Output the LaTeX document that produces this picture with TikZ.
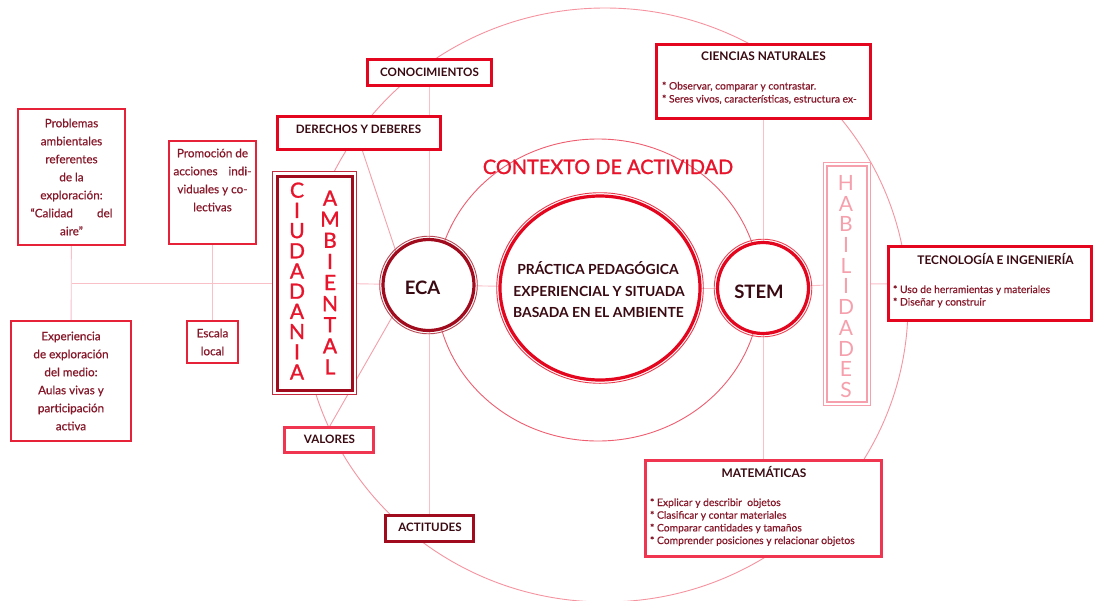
\documentclass[tikz,border=0pt]{standalone}
\usepackage{fontspec}
\setmainfont{Lato}
\newfontfamily\latomed[FakeBold=1.2]{Lato}
\newfontfamily\latoside[FakeBold=0.5]{Lato}
\usetikzlibrary{shapes.geometric,calc}
\pgfdeclarelayer{bottom}
\pgfdeclarelayer{background}
\pgfsetlayers{bottom,background,main}
\definecolor{bred}{HTML}{E3061E}
\definecolor{mred}{HTML}{EF3550}
\definecolor{dred}{HTML}{A00C1E}
\definecolor{sred}{HTML}{E52238}
\definecolor{cred}{HTML}{C42A3E}
\definecolor{lpink}{HTML}{F9C0C8}
\definecolor{dpink}{HTML}{F5A0AA}
\definecolor{opink}{HTML}{F594A0}
\definecolor{epink}{HTML}{EE5E70}
\definecolor{hpink}{HTML}{F5A0AC}
\definecolor{ttext}{HTML}{3A0A12}
\definecolor{btext}{HTML}{86182A}
\definecolor{ctext}{HTML}{E8142C}
\tikzset{
  every node/.style={inner sep=0pt,outer sep=0pt},
  boxb/.style={rectangle,draw=bred,line width=3pt,fill=white},
  boxm/.style={rectangle,draw=mred,line width=3pt,fill=white},
  boxd/.style={rectangle,draw=dred,line width=3pt,fill=white},
  boxs/.style={rectangle,draw=sred,line width=2pt,fill=white},
  ttl/.style={anchor=base,text=ttext,font=\bfseries\fontsize{11.6}{14}\selectfont},
  ttls/.style={anchor=base,text=ttext,font=\bfseries\fontsize{11.9}{13}\selectfont},
  ttlc/.style={anchor=base,text=ttext,font=\bfseries\fontsize{13.9}{15}\selectfont},
  sidetxt/.style={text=btext,align=center,font=\latoside\fontsize{11.7}{18}\selectfont},
  bodytxt/.style={anchor=base west,text=btext,font=\latoside\fontsize{10.3}{12}\selectfont},
  conn/.style={draw=lpink,line width=0.9pt},
  diag/.style={draw=dpink,line width=0.9pt},
  outerring/.style={draw=opink,line width=0.9pt},
  ctxring/.style={draw=epink,line width=0.9pt},
}
\begin{document}
\begin{tikzpicture}[x=1pt,y=-1pt]
\begin{pgfonlayer}{bottom}
\fill[white] (0,0) rectangle (1094,600);
\end{pgfonlayer}
\useasboundingbox (0,0) rectangle (1094,600);

% left boxes
\node[boxs,minimum width=107pt,minimum height=136pt,sidetxt] (prob) at (71.5,177)
  {Problemas\\ambientales\\referentes\\de la\\exploración:\\\hbox to 82pt{“Calidad\hfill del}\\aire”};
\node[boxs,minimum width=87pt,minimum height=103pt] (promo) at (212.5,192.5) {};
\node[sidetxt] (promotxt) at (212.5,180) {Promoción de\\\hbox to 78pt{acciones\hfill indi-}\\viduales y co-\\lectivas};
\node[boxs,minimum width=120pt,minimum height=120pt,sidetxt] (exp) at (71,381)
  {Experiencia\\de exploración\\del medio:\\Aulas vivas y\\participación\\activa};
\node[boxs,minimum width=51pt,minimum height=42pt,sidetxt] (esc) at (212.5,342) {Escala\\local};

% ciudadania
\node[rectangle,draw=cred,line width=1.2pt,fill=white,minimum width=84pt,minimum height=223pt] (ciud) at (314.5,283) {};
\draw[dred,line width=3pt] ($(ciud.north west)+(4.5,4.5)$) rectangle ($(ciud.south east)+(-4.5,-4.5)$);
\node[text=ctext,align=center,font=\latomed\fontsize{21}{20.2}\selectfont] (ciutxt) at (297,281) {C\\I\\U\\D\\A\\D\\A\\N\\I\\A};
\node[text=ctext,align=center,font=\latomed\fontsize{21}{21.1}\selectfont] (ambtxt) at (330,282.5) {A\\M\\B\\I\\E\\N\\T\\A\\L};

% small title boxes
\node[boxb,minimum width=124pt,minimum height=26pt] (conoc) at (429.5,72.5) {};
\node[ttl] (conoct) at (429.5,76) {CONOCIMIENTOS};
\node[boxb,minimum width=163pt,minimum height=33pt] (der) at (359,133) {};
\node[ttl] (dert) at (358.5,133.3) {DERECHOS Y DEBERES};
\node[boxm,minimum width=89pt,minimum height=25pt] (val) at (329,440) {};
\node[ttl] (valt) at (329.5,443.3) {VALORES};
\node[boxd,minimum width=88pt,minimum height=26pt] (act) at (429.5,528.5) {};
\node[ttl] (actt) at (430,531.7) {ACTITUDES};

% circles
\node[circle,draw=dred,line width=3.2pt,fill=white,minimum size=91pt] (eca) at (428.5,285) {};
\draw[dred!75,line width=0.9pt] (eca.center) circle[radius=48.8];
\node[anchor=base,text=ttext,font=\bfseries\fontsize{18.5}{20}\selectfont] (ecat) at (422.5,294) {ECA};

\node[ellipse,draw=bred,line width=3.2pt,fill=white,minimum width=200pt,minimum height=184pt] (ctr) at (600,288) {};
\draw[bred!80,line width=0.9pt] (ctr.center) ellipse[x radius=103.3,y radius=95.3];
\node[ttlc] (ctr1) at (598,274) {PRÁCTICA PEDAGÓGICA};
\node[ttlc] (ctr2) at (599,296) {EXPERIENCIAL Y SITUADA};
\node[ttlc] (ctr3) at (598.5,317.5) {BASADA EN EL AMBIENTE};

\node[circle,draw=bred,line width=3.2pt,fill=white,minimum size=91pt] (stem) at (763,288) {};
\draw[bred!75,line width=0.9pt] (stem.center) circle[radius=48.8];
\node[anchor=base,text=ttext,font=\bfseries\fontsize{18.5}{20}\selectfont] (stemt) at (759,298) {STEM};

\node[anchor=base,text=ctext,font=\latomed\fontsize{19.9}{21}\selectfont] (ctx) at (608,174) {CONTEXTO DE ACTIVIDAD};

% right boxes
\node[boxb,minimum width=214pt,minimum height=74pt] (cien) at (763.5,81.5) {};
\node[ttls] (cient) at (763.5,60) {CIENCIAS NATURALES};
\node[bodytxt] (cien1) at (662,89.5) {* Observar, comparar y contrastar.};
\node[bodytxt] (cien2) at (662,102.5) {* Seres vivos, características, estructura ex-};

\node[rectangle,draw=hpink,line width=1pt,fill=white,minimum width=47pt,minimum height=243pt] (hab) at (847,284) {};
\draw[hpink,line width=1.8pt] ($(hab.north west)+(3.5,3.5)$) rectangle ($(hab.south east)+(-3.5,-3.5)$);
\node[text=hpink,align=center,font=\fontsize{21}{20.7}\selectfont] (habt) at (846,286.5) {H\\A\\B\\I\\L\\I\\D\\A\\D\\E\\S};

\node[boxb,minimum width=203pt,minimum height=74pt] (tec) at (990,283.5) {};
\node[ttls] (tect) at (995.5,264) {TECNOLOGÍA E INGENIERÍA};
\node[bodytxt] (tec1) at (893,293) {* Uso de herramientas y materiales};
\node[bodytxt] (tec2) at (893,305.5) {* Diseñar y construir};

\node[boxm,minimum width=236pt,minimum height=96pt] (mat) at (763.5,508.5) {};
\node[ttls] (matt) at (764,477) {MATEMÁTICAS};
\node[bodytxt] (mat1) at (650,506) {* Explicar y describir\ \ objetos};
\node[bodytxt] (mat2) at (650,518.7) {* Clasificar y contar materiales};
\node[bodytxt] (mat3) at (650,531.4) {* Comparar cantidades y tamaños};
\node[bodytxt] (mat4) at (650,544) {* Comprender posiciones y relacionar objetos};

% connectors
\begin{pgfonlayer}{background}
\draw[outerring] (605,305) ellipse[x radius=303,y radius=297];
\draw[ctxring] (598,290) ellipse[x radius=162,y radius=151];
\coordinate (j1) at (71.5,283);
\draw[conn] (prob) -- (exp);
\draw[conn] (promo) -- (esc);
\draw[conn] (j1) -- (ciud);
\draw[conn] (ciud) -- (eca);
\draw[conn] (eca) -- (ctr);
\draw[conn] (ctr) -- (stem);
\draw[conn] (stem) -- (hab);
\draw[conn] (hab) -- (tec);
\draw[conn] (conoc) -- (act);
\draw[conn] (cien) -- (mat);
\draw[diag] ($(der.south)+(3,0)$) -- (eca.135);
\draw[diag] (eca.220) -- (val.north);
\end{pgfonlayer}
\end{tikzpicture}
\end{document}
